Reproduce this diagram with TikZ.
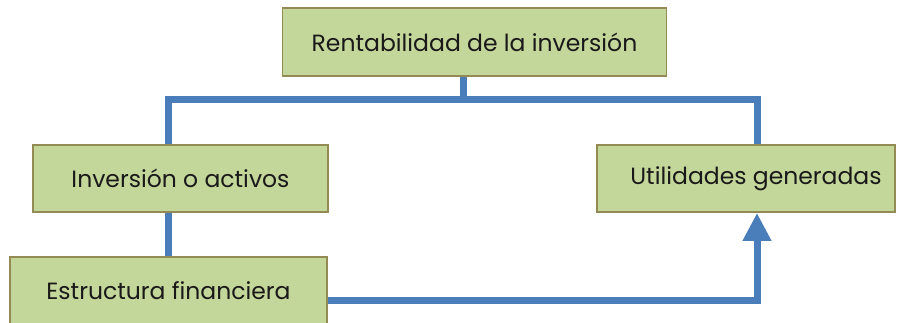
\documentclass[tikz,border=0pt]{standalone}
\usepackage{fontspec}
\setmainfont{Poppins}
\usetikzlibrary{arrows.meta,backgrounds}
\definecolor{boxfill}{HTML}{C4D79B}
\definecolor{boxline}{HTML}{948A54}
\definecolor{connblue}{HTML}{4A7EBB}
\tikzset{
  box/.style={draw=boxline, line width=1.8pt, fill=boxfill, inner sep=0pt,
    font=\fontsize{23.5}{28}\selectfont, text=black!90},
  conn/.style={draw=connblue, line width=7pt},
  shad/.style={draw=black!30, line width=7pt}
}
\begin{document}
\begin{tikzpicture}[x=1pt,y=-1pt]
\useasboundingbox (0,0) rectangle (903,322);
\node[box, minimum width=384pt, minimum height=68pt] (top) at (474.5,42) {\raisebox{-3pt}{Rentabilidad de la inversión}};
\node[box, minimum width=295pt, minimum height=67pt] (left) at (180.5,178.5) {\raisebox{-3pt}{Inversión o activos}};
\node[box, minimum width=298pt, minimum height=67pt] (right) at (746,178.5) {\hspace*{20pt}\raisebox{-3pt}{Utilidades generadas}};
\node[box, minimum width=317pt, minimum height=67pt] (bottom) at (168.5,290.5) {\raisebox{-3pt}{Estructura financiera}};
\coordinate (xl) at (168,0);
\coordinate (xr) at (757,0);
\coordinate (xt) at (463,0);
\coordinate (ybar) at (0,99);
\coordinate (yb) at (0,300);
\begin{scope}[on background layer]
  \begin{scope}[shift={(1.5,3.5)}]
    \draw[shad] (left.north -| xl) -- (xl |- ybar) -- (xr |- ybar) -- (right.north -| xr);
    \draw[shad] (bottom.east |- yb) -- (xr |- yb) -- ([yshift=-28pt]right.south -| xr);
  \end{scope}
  \draw[conn] (left.north -| xl) -- (xl |- ybar) -- (xr |- ybar) -- (right.north -| xr);
  \draw[conn] (top.south -| xt) -- ([yshift=-3]xt |- ybar);
  \draw[conn] (left.south -| xl) -- (bottom.north -| xl);
  \draw[conn, -{Triangle[length=28pt,width=27pt]}] (bottom.east |- yb) -- (xr |- yb) -- (right.south -| xr);
\end{scope}
\end{tikzpicture}
\end{document}
